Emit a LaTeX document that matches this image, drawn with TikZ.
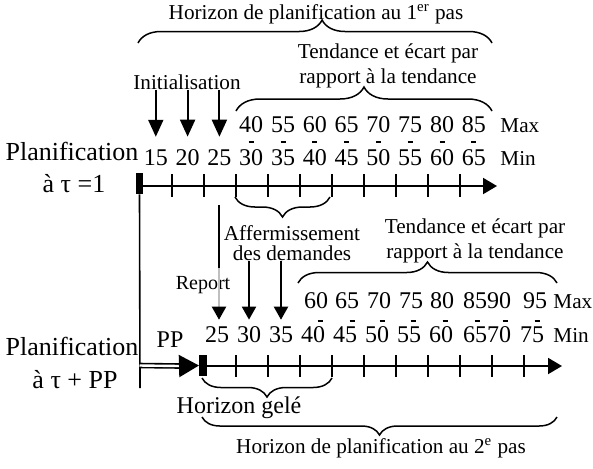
\documentclass[tikz,border=0pt]{standalone}
\usepackage{fontspec}
\setmainfont{Liberation Serif}
\usetikzlibrary{arrows.meta,decorations.pathreplacing}

\tikzset{
  lbl/.style={font=\fontsize{10.6}{12}\selectfont, inner sep=0pt, anchor=base},
  num/.style={font=\fontsize{12}{14}\selectfont, inner sep=0pt, anchor=base},
  big/.style={font=\fontsize{13}{15}\selectfont, inner sep=0pt, anchor=base},
  arr/.style={line width=1pt, -{Triangle[length=8.5pt,width=7.5pt]}},
  arrsmall/.style={line width=1pt, -{Triangle[length=6.5pt,width=7pt,color=black]}},
  axis/.style={line width=1pt, -{Triangle[length=7pt,width=8pt]}},
  tick/.style={line width=0.75pt},
  dashbar/.style={line width=1pt},
  block/.style={fill=black, inner sep=0pt, minimum width=3.6pt, minimum height=10.5pt},
  brc/.style={decorate, decoration={brace, amplitude=#1}, line width=0.75pt},
}

\begin{document}
\begin{tikzpicture}[x=0.5pt, y=-0.5pt]
    %%Background
    \useasboundingbox (0,0) rectangle (593,468);

    %%Top step
    \node[lbl] (horiz1) at (316,19) {Horizon de planification au 1\textsuperscript{er} pas};
    \draw[brc=11.5pt, decoration={aspect=0.52}] (138,43) -- (492,43);
    \node[lbl] (tendA) at (388,58) {Tendance et écart par};
    \node[lbl] (tendB) at (388,83) {rapport à la tendance};
    \draw[brc=12pt] (236,111) -- (492,111);
    \node[lbl] (ini) at (187,89) {Initialisation};

    \node[big] (plan1) at (72,160) {Planification};
    \node[big] (tau1) at (74,192) {à τ =1};

    %% Top axis
    \node[block] (tblk) at (139.5,183.5) {};
    \coordinate (taend) at (497,186);
    \draw[axis] (tblk.center |- taend) -- (taend);
    \foreach \x in {172,204,...,460}
        \draw[tick] (\x,174) -- (\x,197);

    %% Top values
    \foreach \v [count=\i] in {15,20,...,65}
        \node[num] (tmin\i) at (124+31.8*\i,165) {\v};
    \foreach \v [count=\i from 4] in {40,55,60,65,70,75,80,85}
        \node[num] (tmax\i) at (124+31.8*\i,132) {\v};
    \foreach \i in {4,...,11}
        \draw[dashbar] (121.5+31.8*\i,142) -- (126.5+31.8*\i,142);
    \node[lbl, anchor=base west] (tmaxl) at (500,132) {Max};
    \node[lbl, anchor=base west] (tminl) at (500,165) {Min};

    \foreach \i in {1,2,3}
        \draw[arr, shorten >=6pt] (ini.south -| tmin\i) -- (tmin\i.north);

    %% Firming
    \draw[brc=10pt] (330,197) -- (235,197);
    \node[lbl] (aff) at (292,240) {Affermissement};
    \node[lbl] (dem) at (292,260) {des demandes};

    %% Bottom step
    \node[lbl] (tendC) at (475,233) {Tendance et écart par};
    \node[lbl] (tendD) at (475,258) {rapport à la tendance};
    \draw[brc=10.5pt] (298,283) -- (557,283);
    \node[lbl, font=\fontsize{10}{12}\selectfont] (rep) at (203,289) {Report};

    \foreach \v/\x [count=\i] in {25/217,30/249,35/281,40/313,45/345,50/377,55/409,60/441,6570/487,75/532}
        \node[num] (bmin\i) at (\x,342) {\v};
    \foreach \v/\x [count=\i] in {60/316,65/347,70/379,75/411,80/442,8590/487,95/535}
        \node[num] (bmax\i) at (\x,308) {\v};
    \foreach \x in {320,352,382,413,445,477,505,537}
        \draw[dashbar] (\x-2.5,321) -- (\x+2.5,321);
    \node[lbl, anchor=base west] (bmaxl) at (553,308) {Max};
    \node[lbl, anchor=base west] (bminl) at (553,342) {Min};

    %% Carry-over and firm demands
    \coordinate (rep0) at (219,205);
    \coordinate (rep1) at (219,268);
    \draw[line width=0.8pt] (rep0) -- (rep1);
    \draw[arrsmall, gray!50, shorten >=3pt] (rep1) -- (rep1 |- bmin1.north);
    \draw[arrsmall, shorten >=3pt] (dem.south -| bmin2) -- (bmin2.north);
    \draw[arrsmall, shorten >=3pt] (dem.south -| bmin3) -- (bmin3.north);

    %% Bottom axis
    \node[block] (bblk) at (203,365.5) {};
    \coordinate (baend) at (562,366);
    \draw[axis] (bblk.center |- baend) -- (baend);
    \foreach \x in {236,268,...,524}
        \draw[tick] (\x,355) -- (\x,377);

    \node[num] (pp) at (170,347) {PP};
    \node[big] (plan2) at (72,355) {Planification};
    \node[big] (tau2) at (75,388) {à τ + PP};

    %% Shift PP
    \coordinate (vbot) at (140,388);
    \coordinate (dtip) at (180,366);
    \draw[line width=0.8pt] (tblk.south) -- (vbot);
    \draw[double, double distance=1.2pt, line width=0.8pt] (tblk.south |- bblk) -- (dtip);
    \draw[line width=1pt, -{Triangle[length=10pt,width=11pt]}] (dtip) -- (bblk.west);

    %% Frozen horizon
    \draw[brc=9.5pt] (332,378) -- (202,378);
    \node[num] (gel) at (239,413) {Horizon gelé};
    \draw[brc=9pt] (557,417) -- (202,417);
    \node[lbl] (horiz2) at (381,453) {Horizon de planification au 2\textsuperscript{e} pas};

\end{tikzpicture}
\end{document}
